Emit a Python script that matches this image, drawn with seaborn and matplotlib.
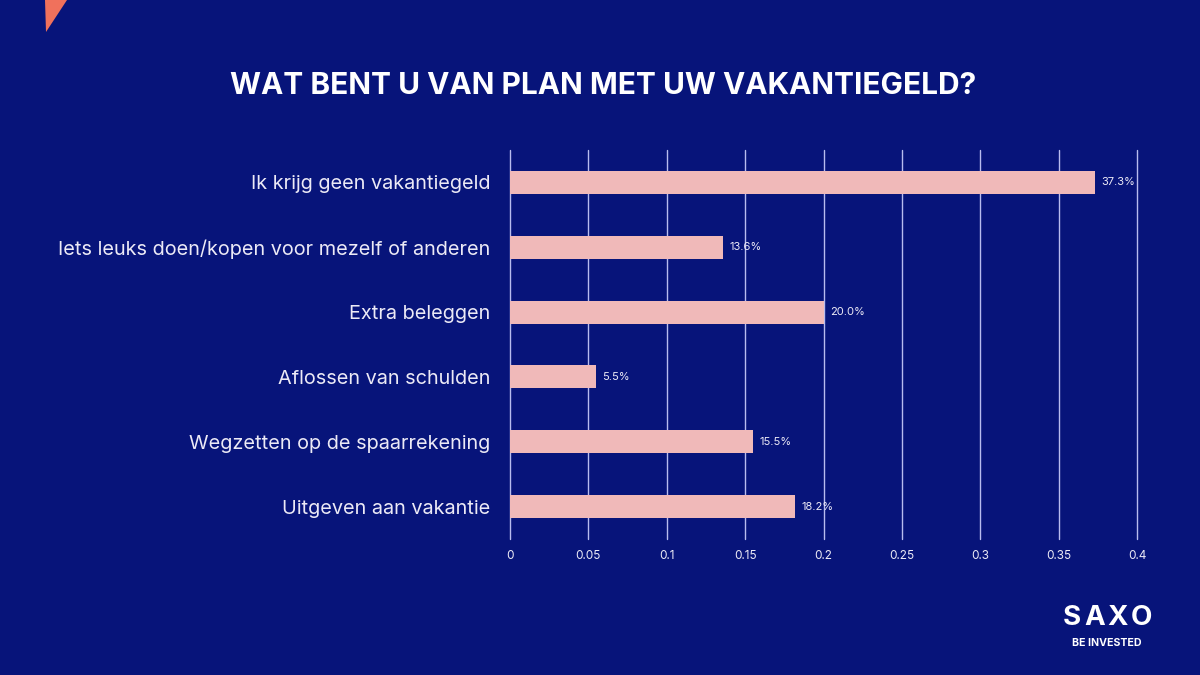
import numpy as np
import pandas as pd
import seaborn as sns
import matplotlib.pyplot as plt
from matplotlib.patches import Polygon

categories = ["Ik krijg geen vakantiegeld",
              "Iets leuks doen/kopen voor mezelf of anderen",
              "Extra beleggen",
              "Aflossen van schulden",
              "Wegzetten op de spaarrekening",
              "Uitgeven aan vakantie"]
shares = [0.373, 0.136, 0.200, 0.055, 0.155, 0.182]
xticks = [0, 0.05, 0.1, 0.15, 0.2, 0.25, 0.3, 0.35, 0.4]
xticklabels = ["0", "0.05", "0.1", "0.15", "0.2", "0.25", "0.3", "0.35", "0.4"]

bg = "#07147a"
bar_col = "#f0b9b9"
txt = "#eceaf6"

df = pd.DataFrame({"cat": categories, "share": shares})

sns.set_style("white")
plt.rcParams['font.family'] = ['Inter', 'DejaVu Sans']

fig = plt.figure(figsize=(12, 6.75), dpi=100, facecolor=bg)
ax = fig.add_axes([0.425, 0.2015, 0.5225, 0.5763])
ax.set_facecolor(bg)

sns.barplot(data=df, x="share", y="cat", color=bar_col, width=0.355,
            saturation=1, linewidth=0, ax=ax, zorder=3)

ax.set_xlim(0, 0.4)
ax.set_ylim(5.5, -0.5)
ax.set_xticks(xticks)
ax.set_xticklabels(xticklabels, fontsize=8.5, color=txt)
ax.tick_params(axis='x', length=0, pad=8)
ax.tick_params(axis='y', length=0, labelsize=14.3, labelcolor=txt, pad=14)
ax.grid(axis='x', color="#b8bcef", linewidth=1, zorder=0)
for gl in ax.get_xgridlines():
    gl.set_clip_on(False)
ax.set_axisbelow(True)
for s in ax.spines.values():
    s.set_visible(False)
ax.set_xlabel("")
ax.set_ylabel("")

for i, v in enumerate(shares):
    ax.text(v + 0.004, i, f"{v*100:.1f}%", va='center', ha='left',
            fontsize=8, color=txt, zorder=4)

fig.text(0.503, 0.873, "WAT BENT U VAN PLAN MET UW VAKANTIEGELD?",
         ha='center', va='center', fontsize=21.5, fontweight='bold', color='white')

# orange corner mark
fig.patches.append(Polygon([[45/1200, 1], [67/1200, 1], [46/1200, 1 - 32/675]],
                           closed=True, transform=fig.transFigure,
                           facecolor="#f0715c", edgecolor='none'))

# logo, letters spaced out
for k, ch in enumerate("SAXO"):
    fig.text((1072 + k * 23) / 1200, 0.084, ch, ha='center', va='center',
             fontsize=20, fontweight='bold', color='white')
fig.text(0.9225, 0.047, "BE INVESTED", ha='center', va='center', fontsize=7.6,
         fontweight='bold', color='white')

fig.savefig("out.png", dpi=100, facecolor=bg)
